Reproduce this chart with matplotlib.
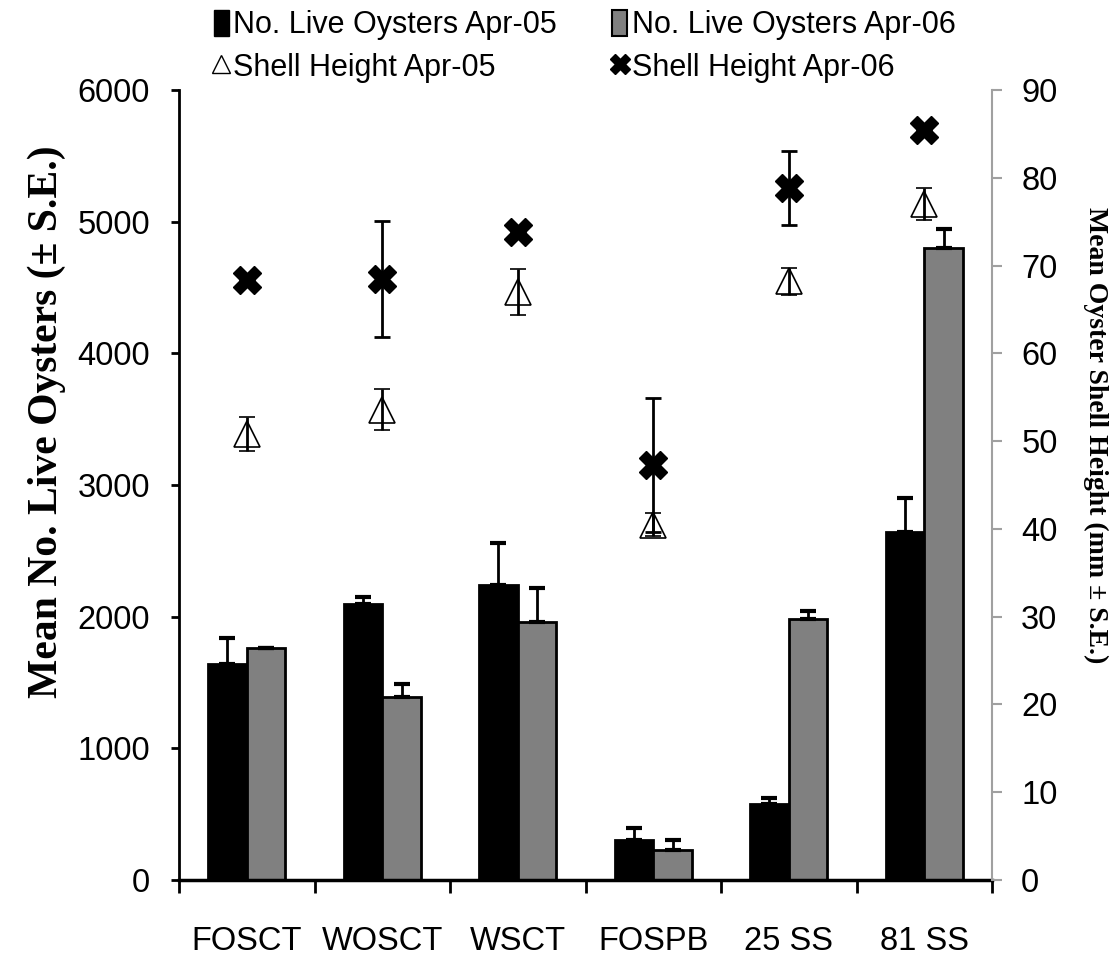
import numpy as np
import matplotlib
matplotlib.use('Agg')
from matplotlib import pyplot as plt
from matplotlib.patches import Patch
from matplotlib.lines import Line2D

# Data
sites = ['FOSCT', 'WOSCT', 'WSCT', 'FOSPB', '25 SS', '81 SS']

live_05 = [1640, 2100, 2240, 305, 576, 2641]
live_05_se = [200, 47, 317, 91, 48, 258]
live_06 = [1760, 1392, 1962, 226, 1985, 4797]
live_06_se = [0, 94, 258, 79, 60, 147]

shell_05 = [50.8, 53.6, 67.0, 40.5, 68.2, 77.0]
shell_05_se = [1.9, 2.3, 2.6, 1.3, 1.5, 1.8]
shell_06 = [68.3, 68.5, 73.8, 47.3, 78.8, 85.4]
shell_06_se = [0, 6.6, 0, 7.6, 4.2, 0]

sans = ['Liberation Sans', 'DejaVu Sans']
serif = ['Liberation Serif', 'DejaVu Serif']

fig = plt.figure(figsize=(11.15, 9.64), dpi=100)
ax = fig.add_axes([179 / 1115, 1 - 880 / 964, (992 - 179) / 1115, (880 - 90) / 964])
ax2 = ax.twinx()

x = np.arange(len(sites))
w = 0.285

# bars (left axis)
ax.bar(x - w / 2, live_05, w, color='black', edgecolor='black', linewidth=2, zorder=2)
ax.bar(x + w / 2, live_06, w, color='#808080', edgecolor='black', linewidth=2, zorder=2)
ax.errorbar(x - w / 2, live_05, yerr=[np.zeros(6), live_05_se], fmt='none',
            ecolor='black', elinewidth=2, capsize=5.5, capthick=3, zorder=3)
ax.errorbar(x + w / 2, live_06, yerr=[np.zeros(6), live_06_se], fmt='none',
            ecolor='black', elinewidth=2, capsize=5.5, capthick=3, zorder=3)

ax.set_xlim(-0.5, 5.5)
ax.set_ylim(0, 6000)
ax.set_yticks(range(0, 6001, 1000))
ax.tick_params(axis='y', direction='out', length=6, width=2, pad=15,
               labelsize=23.5, colors='black')
ax.set_xticks(np.arange(-0.5, 6, 1))
ax.set_xticklabels([])
ax.set_xticks(x, minor=True)
ax.set_xticklabels(sites, minor=True)
ax.tick_params(axis='x', which='major', direction='out', length=9, width=2)
ax.tick_params(axis='x', which='minor', length=0, pad=33, labelsize=23.5)
for lab in ax.get_xticklabels(minor=True) + ax.get_yticklabels():
    lab.set_family(sans)

for s in ['top', 'right']:
    ax.spines[s].set_visible(False)
ax.spines['left'].set_linewidth(2)
ax.spines['bottom'].set_linewidth(2.5)

ax.set_ylabel('Mean No. Live Oysters (± S.E.)', family=serif, fontweight='bold',
              fontsize=30)
ax.yaxis.set_label_coords(-0.139, 0.58)

# shell heights (right axis)
ax2.errorbar(x, shell_05, yerr=shell_05_se, fmt='^', ms=19, mfc='none', mec='black',
             mew=1.2, ecolor='black', elinewidth=2, capsize=5.5, capthick=3, zorder=4)
ax2.errorbar(x, shell_06, yerr=shell_06_se, fmt='X', ms=20, mfc='black', mec='black',
             ecolor='black', elinewidth=2, capsize=5.5, capthick=2, zorder=5)
ax2.set_ylim(0, 90)
ax2.set_yticks(range(0, 91, 10))
ax2.tick_params(axis='y', direction='out', length=7, width=1.5, color='#a0a0a0',
                labelcolor='black', pad=14, labelsize=23.5)
for lab in ax2.get_yticklabels():
    lab.set_family(sans)
for s in ['top', 'left', 'bottom']:
    ax2.spines[s].set_visible(False)
ax2.spines['right'].set_color('#a0a0a0')
ax2.spines['right'].set_linewidth(1.5)
ax2.set_ylabel('Mean Oyster Shell Height (mm ± S.E.)', family=serif, fontweight='bold',
               fontsize=20, rotation=270, va='center')
ax2.yaxis.set_label_coords(1.127, 0.563)

# legend: filled column-wise, so order gives two rows (Apr-05 / Apr-06 pairs)
h_live05 = Patch(facecolor='black', edgecolor='black')
h_live06 = Patch(facecolor='#808080', edgecolor='black', linewidth=1.5)
h_sh05 = Line2D([], [], marker='^', ls='none', mfc='none', mec='black', mew=1, ms=13)
h_sh06 = Line2D([], [], marker='X', ls='none', mfc='black', mec='black', ms=15)
handles = [h_live05, h_sh05, h_live06, h_sh06]
labels = ['No. Live Oysters Apr-05', 'Shell Height Apr-05',
          'No. Live Oysters Apr-06', 'Shell Height Apr-06']
fig.legend(handles, labels, ncol=2, loc='upper left', bbox_to_anchor=(186 / 1115, 1.018),
           frameon=False, prop={'family': sans, 'size': 22}, handlelength=0.5,
           handleheight=0.9, handletextpad=0.15, columnspacing=1.8, labelspacing=0.4)

fig.savefig('out.png', dpi=100)
